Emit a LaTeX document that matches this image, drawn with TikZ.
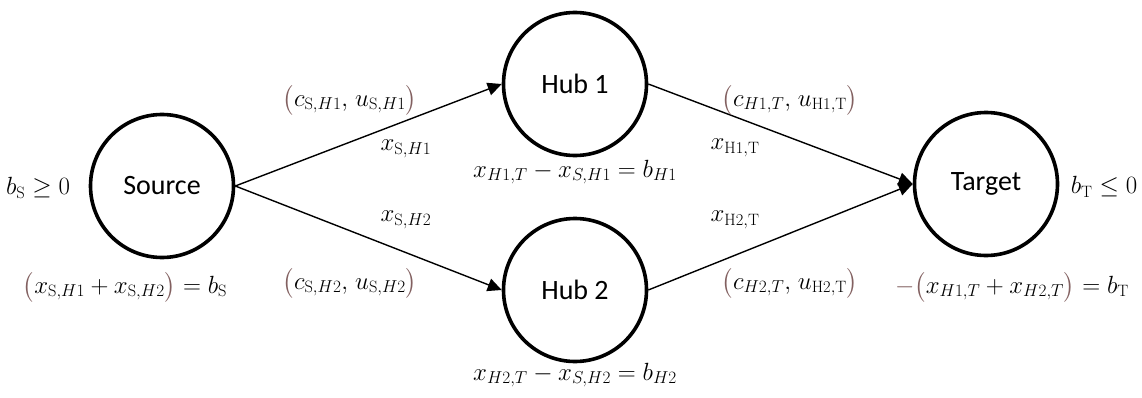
\documentclass[tikz,border=0pt]{standalone}
\usepackage{fontspec}
\usepackage{amsmath}
\newfontfamily\labelfont{Carlito}
\usetikzlibrary{arrows.meta}
\definecolor{parencol}{RGB}{130,96,96}
\newcommand{\pl}{\textcolor{parencol}{\bigl(}}
\newcommand{\pr}{\textcolor{parencol}{\bigr)}}
\newcommand{\rmS}{\mathrm{S}}
\newcommand{\rmT}{\mathrm{T}}
\begin{document}
\begin{tikzpicture}[x=1pt,y=1pt,
  station/.style={circle,draw=black,line width=3.6pt,minimum size=143pt,inner sep=0pt,
    font=\labelfont\fontsize{28}{32}\selectfont},
  flow/.style={line width=1.4pt,-{Triangle[length=14pt,width=13pt]}},
  lbl/.style={font=\fontsize{23.5}{28}\selectfont,inner sep=0pt}]
\useasboundingbox (0,0) rectangle (1142,397);
% network nodes
\node[station] (src) at (162,211) {Source};
\node[station] (hub1) at (575,313) {Hub 1};
\node[station] (hub2) at (575,107) {Hub 2};
\node[station] (tgt) at (986,213) {Target};
% arcs
\draw[flow] (src.east) -- (hub1.west);
\draw[flow] (src.east) -- (hub2.west);
\draw[flow] (hub1.east) -- (tgt.west);
\draw[flow] (hub2.east) -- (tgt.west);
% arc cost/capacity and flow labels
\node[lbl] (l1) at (350,297) {$\pl c_{\rmS,H1},\mkern2mu u_{\rmS,H1}\pr$};
\node[lbl] (l2) at (406,248) {$x_{\rmS,H1}$};
\node[lbl] (l3) at (406,177) {$x_{\rmS,H2}$};
\node[lbl] (l4) at (350,114) {$\pl c_{\rmS,H2},\mkern2mu u_{\rmS,H2}\pr$};
\node[lbl] (l5) at (790,297) {$\pl c_{H1,T},\mkern2mu u_{\mathrm{H1,T}}\pr$};
\node[lbl] (l6) at (735,249) {$x_{\mathrm{H1,T}}$};
\node[lbl] (l7) at (735,177) {$x_{\mathrm{H2,T}}$};
\node[lbl] (l8) at (790,114) {$\pl c_{H2,T},\mkern2mu u_{\mathrm{H2,T}}\pr$};
% node balance equations
\node[lbl] (b1) at (575,225) {$x_{H1,T} - x_{S,H1} = b_{H1}$};
\node[lbl] (b2) at (575,22) {$x_{H2,T} - x_{S,H2} = b_{H2}$};
\node[lbl] (bs) at (38,209) {$b_{\rmS} \geq 0$};
\node[lbl] (bsx) at (125,110) {$\pl x_{\rmS,H1} + x_{\rmS,H2}\pr = b_{\rmS}$};
\node[lbl] (bt) at (1104,210) {$b_{\rmT} \leq 0$};
\node[lbl] (btx) at (1012,110) {$\textcolor{parencol}{-}\pl x_{H1,T} + x_{H2,T}\pr = b_{\rmT}$};
\end{tikzpicture}
\end{document}
